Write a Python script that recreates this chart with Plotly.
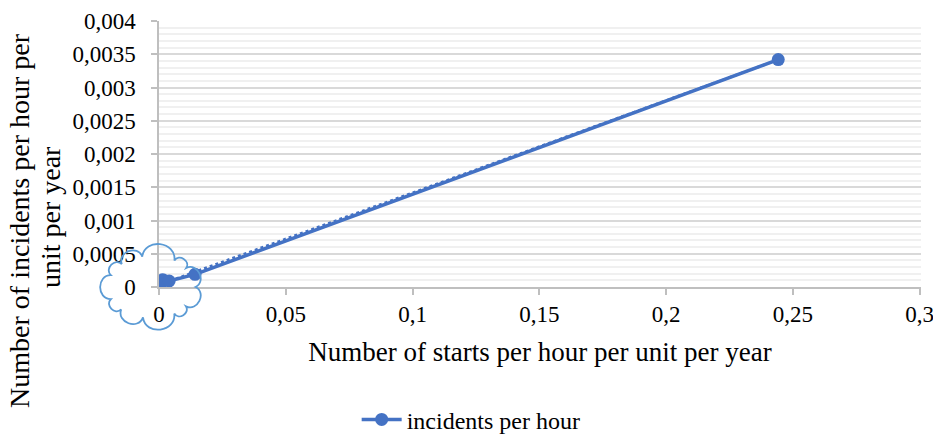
import math
import numpy as np
import plotly.graph_objects as go

# Observed rates
starts_per_hour = [0.0003, 0.0015, 0.004, 0.0142, 0.2442]
incidents_per_hour = [0.00001, 0.00011, 0.00009, 0.00019, 0.00342]

x_tick_vals = [0, 0.05, 0.1, 0.15, 0.2, 0.25, 0.3]
x_tick_text = ["0", "0,05", "0,1", "0,15", "0,2", "0,25", "0,3"]
y_tick_vals = [0, 0.0005, 0.001, 0.0015, 0.002, 0.0025, 0.003, 0.0035, 0.004]
y_tick_text = ["0", "0,0005", "0,001", "0,0015", "0,002", "0,0025", "0,003", "0,0035", "0,004"]

y_title_lines = ["Number of incidents per hour per", "unit per year"]

BLUE = "#4472C4"
FONT = "Liberation Serif"

# Linear trend fitted to the series
slope, intercept = np.polyfit(starts_per_hour, incidents_per_hour, 1)
trend_x = np.array([0.0, max(starts_per_hour)])
trend_y = slope * trend_x + intercept

fig = go.Figure()
fig.add_trace(go.Scatter(
    x=trend_x, y=trend_y, mode="lines",
    line=dict(color=BLUE, width=2.5, dash="dot"),
    showlegend=False, hoverinfo="skip",
))
fig.add_trace(go.Scatter(
    x=starts_per_hour, y=incidents_per_hour, mode="lines+markers",
    name="incidents per hour",
    line=dict(color=BLUE, width=3.5),
    marker=dict(color=BLUE, size=13),
))


def cloud_path(cx, cy, rx, ry, n_bumps=11):
    """Cloud outline built from outward-bulging cubic bumps (pixel units)."""
    pts = []
    for i in range(n_bumps):
        a = 2 * math.pi * i / n_bumps + 0.12 * math.sin(2.3 * i)
        pts.append((cx + rx * math.cos(a), cy + ry * math.sin(a)))
    d = f"M{pts[0][0]:.2f},{pts[0][1]:.2f}"
    for i in range(n_bumps):
        x1, y1 = pts[i]
        x2, y2 = pts[(i + 1) % n_bumps]
        mx, my = (x1 + x2) / 2, (y1 + y2) / 2
        c = math.hypot(x2 - x1, y2 - y1)
        nx, ny = (y2 - y1) / c, -(x2 - x1) / c
        # make sure the normal points away from the centre
        if (mx - cx) * nx + (my - cy) * ny < 0:
            nx, ny = -nx, -ny
        k = 0.6 * c
        d += (f" C{x1 + nx * k:.2f},{y1 + ny * k:.2f}"
              f" {x2 + nx * k:.2f},{y2 + ny * k:.2f}"
              f" {x2:.2f},{y2:.2f}")
    return d + " Z"


fig.add_shape(
    type="path", xref="paper", yref="paper",
    xsizemode="pixel", ysizemode="pixel", xanchor=0, yanchor=0,
    path=cloud_path(-7.5, 0, 44, 31),
    line=dict(color="#5B9BD5", width=1.8),
    fillcolor="rgba(0,0,0,0)", layer="above",
)

# Two-line vertical y-axis title
for text, xp, yp in [(y_title_lines[0], -0.1825, 0.252),
                     (y_title_lines[1], -0.1430, 0.263)]:
    fig.add_annotation(
        text=text, xref="paper", yref="paper", x=xp, y=yp,
        xanchor="center", yanchor="middle", textangle=-90,
        showarrow=False, font=dict(family=FONT, size=28, color="#000000"),
    )

fig.update_layout(
    width=933, height=436,
    margin=dict(l=159, r=12, t=21, b=149),
    paper_bgcolor="white", plot_bgcolor="white",
    font=dict(family=FONT, size=23, color="#000000"),
    showlegend=True,
    legend=dict(
        orientation="h", xref="container", yref="container",
        x=0.505, xanchor="center", y=0.037, yanchor="middle",
        font=dict(family=FONT, size=24, color="#000000"), itemwidth=40,
    ),
    xaxis=dict(
        range=[0, 0.3005], tickvals=x_tick_vals, ticktext=x_tick_text,
        automargin=False,
        showgrid=False, zeroline=False,
        showline=True, linecolor="#BFBFBF", linewidth=1.5,
        ticks="outside", ticklen=6, tickcolor="#BFBFBF", tickwidth=1.5,
        ticklabeloverflow="allow",
        tickfont=dict(family=FONT, size=23, color="#000000"),
        title=dict(text="Number of starts per hour per unit per year",
                   font=dict(family=FONT, size=27, color="#000000"), standoff=16),
    ),
    yaxis=dict(
        range=[0, 0.004], tickvals=y_tick_vals, ticktext=y_tick_text,
        automargin=False,
        showgrid=True, gridcolor="#D9D9D9", gridwidth=1.5, zeroline=False,
        showline=True, linecolor="#BFBFBF", linewidth=1.5,
        ticks="outside", ticklen=6, tickcolor="#BFBFBF", tickwidth=1.5,
        ticklabelstandoff=11,
        tickfont=dict(family=FONT, size=23, color="#000000"),
        minor=dict(dtick=0.0001, showgrid=True, gridcolor="#F0F0F0", gridwidth=1.5),
    ),
)

fig.write_html("out.html")
